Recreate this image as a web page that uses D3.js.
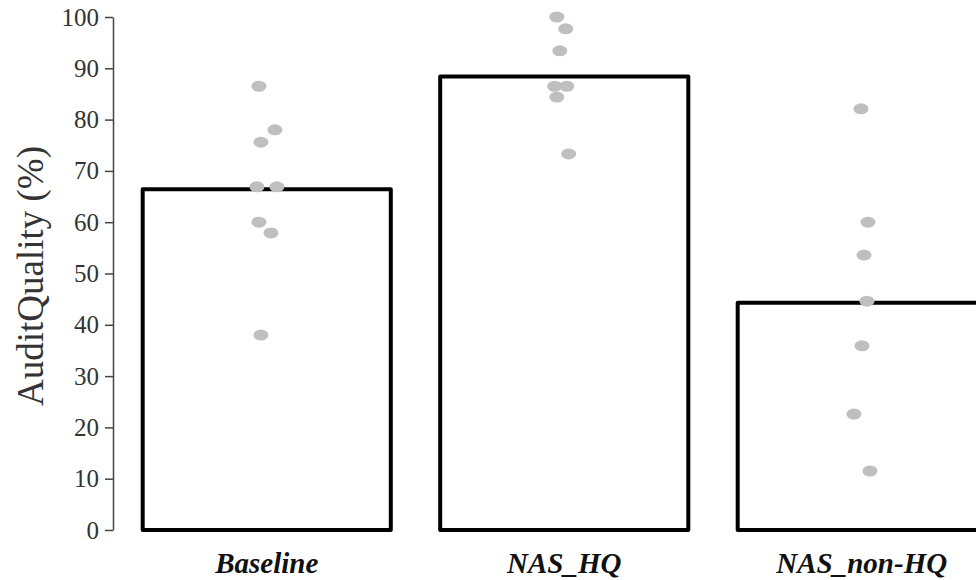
<!DOCTYPE html>
<html>
<head>
<meta charset="utf-8">
<script src="https://cdn.jsdelivr.net/npm/d3@7"></script>
<style>
  body { margin: 0; background: #fff; }
  svg { display: block; }
  .tickText { font-family: "Liberation Serif", "Times New Roman", serif; font-size: 25px; fill: #333; }
  .catText { font-family: "Liberation Serif", "Times New Roman", serif; font-size: 29px; font-weight: bold; font-style: italic; fill: #111; }
  .yTitle { font-family: "Liberation Serif", "Times New Roman", serif; font-size: 37px; fill: #333; }
</style>
</head>
<body>
<svg id="chart" width="976" height="580"></svg>
<script>
// categories and bar heights (mean audit quality, %)
const categories = ['Baseline', 'NAS_HQ', 'NAS_non-HQ'];
const barValues = [66.4, 88.4, 44.3];

// individual observations per category, with their horizontal jitter (-1..1)
const baselinePts = [86.5, 78.0, 75.6, 66.9, 66.9, 60.0, 57.9, 38.0];
const baselineJit = [-0.63, 0.66, -0.47, -0.79, 0.82, -0.63, 0.34, -0.47];
const hqPts = [100.0, 97.7, 93.4, 86.5, 86.5, 84.4, 73.3];
const hqJit = [-0.6, 0.12, -0.36, -0.77, 0.2, -0.6, 0.36];
const nonHqPts = [82.1, 60.0, 53.6, 44.6, 35.9, 22.6, 11.5];
const nonHqJit = [-0.06, 0.5, 0.18, 0.42, 0.02, -0.63, 0.66];

const yTicks = [0, 10, 20, 30, 40, 50, 60, 70, 80, 90, 100];
const yTitle = 'AuditQuality (%)';

const svg = d3.select('#chart');

// scales
const x = d3.scaleBand()
  .domain(categories)
  .range([118, 1010.5])
  .paddingInner(0.166)
  .paddingOuter(0.083);

const y = d3.scaleLinear()
  .domain([0, 100])
  .range([530, 17]);

const jitter = d3.scaleLinear()
  .domain([-1, 1])
  .range([-x.bandwidth() * 0.05, x.bandwidth() * 0.05]);

//------------------------------Y AXIS------------------------------------
const axisX = 113;
const yAxis = svg.append('g')
  .attr('transform', `translate(${axisX},0)`)
  .call(d3.axisLeft(y).tickValues(yTicks).tickSize(8).tickPadding(6).tickSizeOuter(0));

yAxis.select('.domain').attr('stroke', '#444').attr('stroke-width', 1.5);
yAxis.selectAll('.tick line').attr('stroke', '#444').attr('stroke-width', 1.5);
yAxis.selectAll('.tick text')
  .attr('class', 'tickText')
  .attr('font-family', null).attr('font-size', null)
  .attr('fill', null);
yAxis.attr('font-family', null).attr('font-size', null);

svg.append('text')
  .attr('class', 'yTitle')
  .attr('text-anchor', 'middle')
  .attr('transform', 'translate(43,276) rotate(-90)')
  .text(yTitle);

//------------------------------BARS------------------------------------
svg.append('g').selectAll('path')
  .data(categories)
  .join('path')
  .attr('d', (c, i) => {
    const x0 = x(c), x1 = x(c) + x.bandwidth();
    return `M${x0},${y(0)}V${y(barValues[i])}H${x1}V${y(0)}Z`;
  })
  .attr('fill', '#fff')
  .attr('stroke', '#000')
  .attr('stroke-width', 4)
  .attr('stroke-linejoin', 'round');

//------------------------------POINTS------------------------------------
const pointSets = [
  { cat: categories[0], vals: baselinePts, jit: baselineJit },
  { cat: categories[1], vals: hqPts, jit: hqJit },
  { cat: categories[2], vals: nonHqPts, jit: nonHqJit }
];

const points = pointSets.flatMap(s => s.vals.map((v, i) => ({ cat: s.cat, v: v, j: s.jit[i] })));

svg.append('g').selectAll('ellipse')
  .data(points)
  .join('ellipse')
  .attr('cx', d => x(d.cat) + x.bandwidth() / 2 + jitter(d.j))
  .attr('cy', d => y(d.v))
  .attr('rx', 7.5)
  .attr('ry', 5.5)
  .attr('fill', '#bfbfbf');

//------------------------------CATEGORY LABELS------------------------------------
svg.append('g').selectAll('text')
  .data(categories)
  .join('text')
  .attr('class', 'catText')
  .attr('text-anchor', 'middle')
  .attr('x', c => x(c) + x.bandwidth() / 2)
  .attr('y', 573)
  .text(c => c);
</script>
</body>
</html>
